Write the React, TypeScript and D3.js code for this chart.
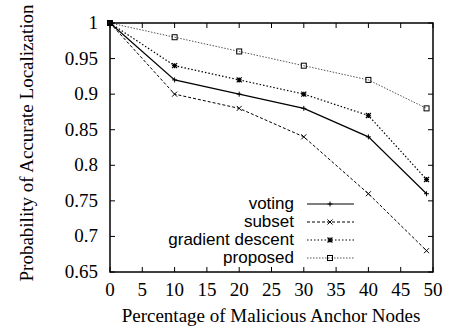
import React, { useEffect, useRef } from "react";
import * as d3 from "d3";

const xValues = [0, 10, 20, 30, 40, 49];
const voting = [1, 0.92, 0.9, 0.88, 0.84, 0.76];
const subset = [1, 0.9, 0.88, 0.84, 0.76, 0.68];
const gradientDescent = [1, 0.94, 0.92, 0.9, 0.87, 0.78];
const proposed = [1, 0.98, 0.96, 0.94, 0.92, 0.88];
const xTicks = [0, 5, 10, 15, 20, 25, 30, 35, 40, 45, 50];
const yTicks = [0.65, 0.7, 0.75, 0.8, 0.85, 0.9, 0.95, 1];
const seriesNames = ["voting", "subset", "gradient descent", "proposed"];

export default function App() {
  const ref = useRef<SVGSVGElement>(null);

  useEffect(() => {
    const width = 455,
      height = 333;
    const margin = { top: 23, right: 22, bottom: 61, left: 110 };
    const svg = d3.select(ref.current);
    svg.selectAll("*").remove();

    const x = d3.scaleLinear().domain([0, 50]).range([margin.left, width - margin.right]);
    const y = d3.scaleLinear().domain([0.65, 1]).range([height - margin.bottom, margin.top]);

    const serif = "'Liberation Serif', 'Times New Roman', serif";
    const sans = "'Liberation Sans', Arial, sans-serif";
    const tl = 5;

    // ticks, all four sides pointing inward
    const g = svg.append("g").attr("stroke", "#000").attr("stroke-width", 1);
    xTicks.forEach((t) => {
      g.append("line").attr("x1", x(t)).attr("x2", x(t)).attr("y1", y(0.65)).attr("y2", y(0.65) - tl);
      g.append("line").attr("x1", x(t)).attr("x2", x(t)).attr("y1", y(1)).attr("y2", y(1) + tl);
    });
    yTicks.forEach((t) => {
      g.append("line").attr("x1", x(0)).attr("x2", x(0) + tl).attr("y1", y(t)).attr("y2", y(t));
      g.append("line").attr("x1", x(50)).attr("x2", x(50) - tl).attr("y1", y(t)).attr("y2", y(t));
    });

    svg
      .append("g")
      .selectAll("text")
      .data(xTicks)
      .join("text")
      .attr("x", (d) => x(d))
      .attr("y", y(0.65) + 24)
      .attr("text-anchor", "middle")
      .style("font-family", serif)
      .style("font-size", "19px")
      .text((d) => d);

    svg
      .append("g")
      .selectAll("text")
      .data(yTicks)
      .join("text")
      .attr("x", x(0) - 12)
      .attr("y", (d) => y(d) + 6)
      .attr("text-anchor", "end")
      .style("font-family", serif)
      .style("font-size", "19px")
      .text((d) => d3.format("")(d));

    svg
      .append("text")
      .attr("x", 271)
      .attr("y", 322)
      .attr("text-anchor", "middle")
      .style("font-family", serif)
      .style("font-size", "19px")
      .text("Percentage of Malicious Anchor Nodes");

    svg
      .append("text")
      .attr("transform", "translate(33,143) rotate(-90)")
      .attr("text-anchor", "middle")
      .style("font-family", serif)
      .style("font-size", "19px")
      .text("Probability of Accurate Localization");

    const styles = [
      { data: voting, dash: null, color: "#000", w: 1.2, marker: "plus" },
      { data: subset, dash: "3,2", color: "#000", w: 1, marker: "cross" },
      { data: gradientDescent, dash: "1.5,2", color: "#000", w: 1.2, marker: "star" },
      { data: proposed, dash: "1.5,1.5", color: "#555", w: 1, marker: "square" },
    ];

    const line = d3
      .line<number>()
      .x((d, i) => x(xValues[i]))
      .y((d) => y(d));

    const drawMarker = (sel: any, type: string, cx: number, cy: number) => {
      const s = 2.5;
      if (type === "plus") {
        sel.append("path").attr("d", `M${cx - s},${cy}H${cx + s}M${cx},${cy - s}V${cy + s}`).attr("stroke", "#000").attr("stroke-width", 1);
      } else if (type === "cross") {
        sel.append("path").attr("d", `M${cx - s},${cy - s}L${cx + s},${cy + s}M${cx - s},${cy + s}L${cx + s},${cy - s}`).attr("stroke", "#000").attr("stroke-width", 1);
      } else if (type === "star") {
        sel
          .append("path")
          .attr("d", `M${cx - s},${cy}H${cx + s}M${cx},${cy - s}V${cy + s}M${cx - s},${cy - s}L${cx + s},${cy + s}M${cx - s},${cy + s}L${cx + s},${cy - s}`)
          .attr("stroke", "#000")
          .attr("stroke-width", 1.2);
      } else {
        sel.append("rect").attr("x", cx - 2.5).attr("y", cy - 2.5).attr("width", 5).attr("height", 5).attr("fill", "none").attr("stroke", "#000").attr("stroke-width", 1);
      }
    };

    styles.forEach((s) => {
      svg
        .append("path")
        .datum(s.data)
        .attr("fill", "none")
        .attr("stroke", s.color)
        .attr("stroke-width", s.w)
        .attr("stroke-dasharray", s.dash)
        .attr("d", line);
      const mg = svg.append("g");
      s.data.forEach((v, i) => drawMarker(mg, s.marker, x(xValues[i]), y(v)));
    });

    // legend
    const lg = svg.append("g");
    seriesNames.forEach((name, i) => {
      const ly = 204 + i * 18;
      const s = styles[i];
      lg.append("text")
        .attr("x", 294)
        .attr("y", ly + 5)
        .attr("text-anchor", "end")
        .style("font-family", sans)
        .style("font-size", "17px")
        .text(name);
      lg.append("line")
        .attr("x1", 307)
        .attr("x2", 354)
        .attr("y1", ly)
        .attr("y2", ly)
        .attr("stroke", s.color)
        .attr("stroke-width", s.w)
        .attr("stroke-dasharray", s.dash);
      drawMarker(lg, s.marker, 330, ly);
    });

    // frame
    svg
      .append("rect")
      .attr("x", x(0))
      .attr("y", y(1))
      .attr("width", x(50) - x(0))
      .attr("height", y(0.65) - y(1))
      .attr("fill", "none")
      .attr("stroke", "#000")
      .attr("stroke-width", 1.5);
  }, []);

  return (
    <svg
      ref={ref}
      width={455}
      height={333}
      style={{ position: "absolute", left: 0, top: 0, background: "#fff" }}
    />
  );
}
